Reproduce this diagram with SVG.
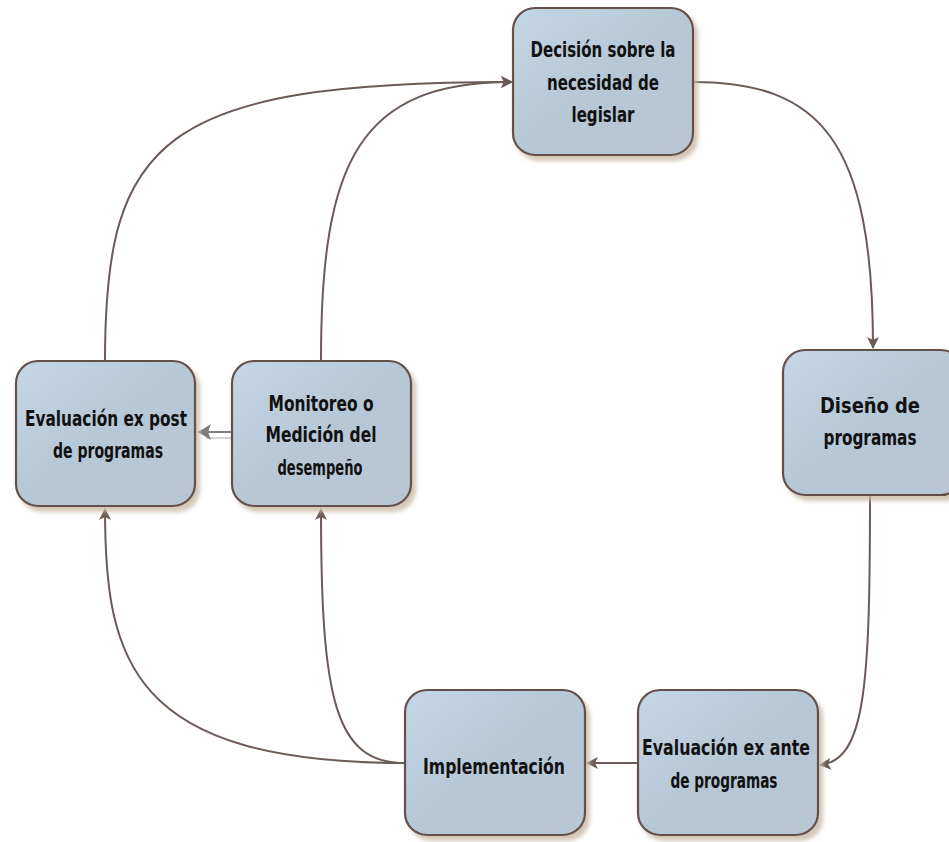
<svg xmlns="http://www.w3.org/2000/svg" width="949" height="842" viewBox="0 0 949 842">
<style>
.box{fill:url(#g);stroke:#654f4a;stroke-width:2.2;filter:url(#sh)}
.t{font-family:"Liberation Sans Narrow","DejaVu Sans Condensed","Liberation Sans",sans-serif;font-weight:bold;font-size:22px;fill:#111;text-anchor:middle}
.c{fill:none;stroke:#6b5a55;stroke-width:2;marker-end:url(#ah)}
</style>
<defs>
<linearGradient id="g" x1="0" y1="0" x2="1" y2="1">
<stop offset="0" stop-color="#c4d5e5"/>
<stop offset="0.5" stop-color="#b6c7d6"/>
<stop offset="1" stop-color="#b9c7d3"/>
</linearGradient>
<filter id="sh" x="-10%" y="-10%" width="130%" height="130%">
<feDropShadow dx="4" dy="5" stdDeviation="2" flood-color="#c9b9a6" flood-opacity="0.8"/>
</filter>
<marker id="ah" markerWidth="12" markerHeight="12" refX="11" refY="6" orient="auto" markerUnits="userSpaceOnUse">
<path d="M0,0 L12,6 L0,12 L3,6 Z" fill="#6b5a55"/>
</marker>
<marker id="ahg" markerWidth="14" markerHeight="16" refX="13" refY="8" orient="auto" markerUnits="userSpaceOnUse">
<path d="M0,0 L13,8 L0,16 L3,8 Z" fill="#7d7d7d"/>
</marker>
</defs>
<g id="connectors">
<path class="c" d="M693,82 C820,82 873,140 873,348"/>
<path class="c" d="M870,495 C870,690 865,760 820,765"/>
<path class="c" d="M638,763 L587,763"/>
<path class="c" d="M405,763 C335,763 321,700 321,509"/>
<path class="c" d="M405,763 C130,763 105,660 105,509"/>
<path class="c" d="M105,361 C105,140 160,82 512,82"/>
<path class="c" d="M321,360 C321,160 360,82 512,82"/>
<path d="M238,438 L206,438" fill="none" stroke="#d2d2d2" stroke-width="2"/>
<path d="M231,432 L198,432" fill="none" stroke="#7d7d7d" stroke-width="2" marker-end="url(#ahg)"/>
</g>
<g id="n-decision">
<rect class="box" x="513" y="8" width="180" height="147" rx="22"/>
<text class="t" x="603" y="57" textLength="145" lengthAdjust="spacingAndGlyphs">Decisión sobre la</text>
<text class="t" x="603" y="90" textLength="112" lengthAdjust="spacingAndGlyphs">necesidad de</text>
<text class="t" x="603" y="122" textLength="63" lengthAdjust="spacingAndGlyphs">legislar</text>
</g>
<g id="n-diseno">
<rect class="box" x="783" y="350" width="180" height="145" rx="22"/>
<text class="t" x="870" y="413" textLength="100" lengthAdjust="spacingAndGlyphs">Diseño de</text>
<text class="t" x="870" y="445" textLength="93" lengthAdjust="spacingAndGlyphs">programas</text>
</g>
<g id="n-expost">
<rect class="box" x="16" y="361" width="179" height="145" rx="22"/>
<text class="t" x="106" y="426" textLength="162" lengthAdjust="spacingAndGlyphs">Evaluación ex post</text>
<text class="t" x="108" y="458" textLength="110" lengthAdjust="spacingAndGlyphs">de programas</text>
</g>
<g id="n-monitoreo">
<rect class="box" x="232" y="361" width="179" height="145" rx="22"/>
<text class="t" x="321" y="411" textLength="105" lengthAdjust="spacingAndGlyphs">Monitoreo o</text>
<text class="t" x="321" y="442" textLength="111" lengthAdjust="spacingAndGlyphs">Medición del</text>
<text class="t" x="320" y="475" textLength="85" lengthAdjust="spacingAndGlyphs">desempeño</text>
</g>
<g id="n-implementacion">
<rect class="box" x="405" y="690" width="180" height="145" rx="22"/>
<text class="t" x="494" y="774" textLength="142" lengthAdjust="spacingAndGlyphs">Implementación</text>
</g>
<g id="n-exante">
<rect class="box" x="638" y="690" width="180" height="145" rx="22"/>
<text class="t" x="726" y="755" textLength="168" lengthAdjust="spacingAndGlyphs">Evaluación ex ante</text>
<text class="t" x="724" y="788" textLength="107" lengthAdjust="spacingAndGlyphs">de programas</text>
</g>
</svg>
